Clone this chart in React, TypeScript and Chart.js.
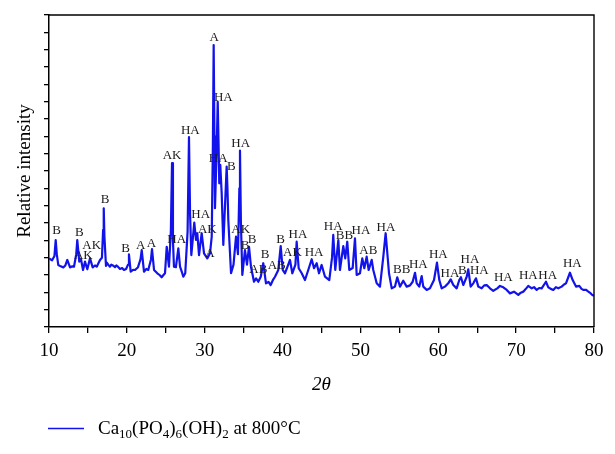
import { useEffect, useRef } from 'react';
import { Chart, registerables } from 'chart.js';

Chart.register(...registerables);

// 2θ positions (degrees) of the trace
const twoTheta = [
  10.0, 10.4, 10.7, 10.86, 11.0, 11.19, 11.5, 11.84,
  12.1, 12.35, 12.7, 13.0, 13.21, 13.5, 13.63, 13.89,
  14.11, 14.37, 14.62, 14.92, 15.27, 15.61, 15.9, 16.13,
  16.55, 16.8, 16.95, 17.03, 17.12, 17.32, 17.45, 17.6,
  17.83, 18.0, 18.2, 18.48, 18.65, 18.8, 19.12, 19.4,
  19.63, 19.9, 20.15, 20.27, 20.49, 20.8, 21.05, 21.43,
  21.75, 21.91, 22.2, 22.5, 22.75, 23.1, 23.23, 23.49,
  23.91, 24.2, 24.47, 24.7, 24.9, 25.12, 25.41, 25.65,
  25.8, 25.92, 26.05, 26.3, 26.61, 26.83, 27.05, 27.25,
  27.5, 27.8, 27.98, 28.12, 28.28, 28.66, 28.88, 29.05,
  29.27, 29.61, 29.91, 30.33, 30.68, 30.9, 31.05, 31.15,
  31.25, 31.32, 31.55, 31.67, 31.78, 31.87, 32.0, 32.18,
  32.39, 32.7, 32.82, 32.92, 33.03, 33.38, 33.7, 34.02,
  34.27, 34.45, 34.53, 34.65, 34.83, 35.17, 35.43, 35.69,
  35.94, 36.33, 36.6, 36.88, 37.2, 37.52, 37.87, 38.2,
  38.47, 38.75, 39.03, 39.45, 39.76, 40.02, 40.31, 40.65,
  40.95, 41.25, 41.65, 41.81, 42.07, 42.46, 42.88, 43.3,
  43.74, 44.04, 44.38, 44.68, 45.02, 45.45, 46.0, 46.35,
  46.51, 46.77, 47.16, 47.37, 47.8, 48.05, 48.31, 48.57,
  49.0, 49.3, 49.52, 49.94, 50.24, 50.5, 50.8, 51.06,
  51.45, 51.65, 52.09, 52.51, 52.94, 53.24, 53.67, 54.02,
  54.44, 54.73, 55.08, 55.5, 55.94, 56.37, 56.71, 57.01,
  57.23, 57.56, 57.87, 58.07, 58.51, 58.93, 59.45, 59.83,
  60.13, 60.44, 60.86, 61.28, 61.59, 61.93, 62.36, 62.7,
  62.91, 63.21, 63.65, 63.85, 64.16, 64.5, 64.84, 65.14,
  65.57, 65.9, 66.22, 66.64, 67.06, 67.58, 67.92, 68.35,
  68.79, 69.21, 69.72, 70.28, 70.6, 70.92, 71.25, 71.56,
  72.0, 72.3, 72.64, 72.95, 73.28, 73.83, 74.13, 74.45,
  74.77, 75.1, 75.41, 75.85, 76.15, 76.4, 76.91, 77.26,
  77.69, 78.11, 78.4, 78.62, 78.95, 79.27, 79.55, 79.78,
  80.0,
];

// Relative intensity (arbitrary units, one unit per y tick)
const intensity = [
  3.96, 3.85, 4.1, 5.02, 4.2, 3.58, 3.5, 3.44,
  3.55, 3.87, 3.44, 3.5, 3.48, 4.2, 5.02, 3.77,
  3.91, 3.29, 3.77, 3.33, 3.96, 3.44, 3.55, 3.48,
  3.87, 4.0, 5.6, 6.85, 5.2, 3.52, 3.7, 3.6,
  3.48, 3.6, 3.55, 3.45, 3.55, 3.5, 3.35, 3.4,
  3.29, 3.35, 3.6, 4.19, 3.19, 3.3, 3.29, 3.45,
  3.9, 4.44, 3.19, 3.35, 3.29, 3.9, 4.5, 3.29,
  3.1, 3.0, 2.87, 3.0, 3.1, 4.63, 3.48, 5.5,
  9.45, 5.0, 3.48, 3.45, 4.54, 3.48, 3.2, 2.9,
  3.1, 5.5, 10.95, 6.5, 4.15, 6.02, 5.02, 5.41,
  4.15, 5.41, 4.25, 3.96, 4.25, 5.21, 10.5, 16.27,
  11.0, 6.85, 10.5, 13.0, 10.5, 8.29, 9.35, 7.71,
  4.73, 8.0, 9.25, 8.0, 6.17, 3.1, 3.6, 5.21,
  4.2, 8.0, 10.17, 6.0, 3.0, 4.44, 3.6, 4.63,
  3.48, 2.61, 2.8, 2.61, 2.9, 3.68, 2.52, 2.6,
  2.42, 2.7, 2.9, 3.29, 4.67, 3.29, 3.1, 3.5,
  3.87, 3.1, 3.6, 4.92, 3.39, 3.1, 2.71, 3.29,
  3.91, 3.39, 3.68, 3.1, 3.58, 2.9, 2.71, 4.0,
  5.31, 3.29, 5.02, 3.29, 4.67, 3.96, 4.92, 3.29,
  3.4, 5.12, 3.0, 3.1, 3.96, 3.39, 4.06, 3.29,
  3.87, 3.29, 2.52, 2.33, 4.06, 5.41, 3.1, 2.23,
  2.33, 2.87, 2.33, 2.67, 2.33, 2.4, 2.61, 3.13,
  2.52, 2.33, 2.94, 2.33, 2.14, 2.23, 2.71, 3.71,
  2.71, 2.23, 2.33, 2.52, 2.75, 2.42, 2.23, 2.71,
  2.87, 2.42, 2.9, 3.33, 2.33, 2.52, 2.81, 2.33,
  2.23, 2.4, 2.42, 2.23, 2.09, 2.23, 2.37, 2.29,
  2.14, 1.94, 2.04, 1.85, 1.98, 2.04, 2.2, 2.37,
  2.23, 2.3, 2.14, 2.25, 2.23, 2.61, 2.29, 2.2,
  2.14, 2.3, 2.23, 2.33, 2.45, 2.52, 3.13, 2.71,
  2.33, 2.37, 2.2, 2.14, 2.15, 2.04, 1.95, 1.85,
  1.8,
];

// Phase annotations
const peakLabels = [
  'B', 'B', 'AK', 'AK', 'B', 'B', 'A', 'A', 'HA', 'AK', 'HA', 'HA', 'AK', 'A', 'A', 'HA',
  'HA', 'B', 'HA', 'AK', 'B', 'B', 'AB', 'B', 'AB', 'B', 'AK', 'HA', 'HA', 'HA', 'BB', 'HA',
  'AB', 'HA', 'BB', 'HA', 'HA', 'HA', 'B', 'HA', 'HA', 'HA', 'HA', 'HA', 'HA',
];
const peakLabelX = [
  10.99, 13.89, 14.41, 15.48, 17.19, 19.85, 21.78, 23.16, 26.4, 25.8, 28.15, 29.48, 30.33, 30.68, 31.23, 32.39,
  31.74, 33.41, 34.62, 34.62, 35.17, 36.07, 36.88, 37.74, 39.25, 39.73, 41.27, 41.98, 44.04, 46.51, 47.95, 50.07,
  51.01, 53.28, 55.3, 57.43, 60.0, 61.5, 63.08, 64.07, 65.27, 68.35, 71.56, 74.05, 77.21,
];
const peakLabelY = [
  5.54, 5.46, 4.11, 4.69, 7.33, 4.54, 4.67, 4.83, 5.02, 9.87, 11.33, 6.5, 5.6, 4.25, 16.69, 13.23,
  9.73, 9.25, 10.6, 5.6, 4.69, 5.02, 3.29, 4.15, 3.52, 5.06, 4.27, 5.31, 4.29, 5.77, 5.25, 5.57,
  4.39, 5.75, 3.33, 3.58, 4.15, 3.1, 3.25, 3.87, 3.25, 2.84, 2.94, 2.94, 3.68,
];

const xLabelValues = [10, 20, 30, 40, 50, 60, 70, 80];
const xTitle = '2θ';
const yTitle = 'Relative intensity';
// legend text pieces: [text, isSubscript]
const legendParts: [string, boolean][] = [
  ['Ca', false], ['10', true], ['(PO', false], ['4', true], [')', false], ['6', true],
  ['(OH)', false], ['2', true], [' at 800°C', false],
];

const LINE_COLOR = '#1212ea';
const SERIF = '"Liberation Serif", "Times New Roman", serif';

const decorPlugin = {
  id: 'decor',
  afterDatasetsDraw(chart: any) {
    const { ctx, scales } = chart;
    ctx.save();
    ctx.fillStyle = '#1a1a1a';
    ctx.font = `13px ${SERIF}`;
    ctx.textAlign = 'center';
    ctx.textBaseline = 'middle';
    peakLabels.forEach((t, i) => {
      ctx.fillText(t, scales.x.getPixelForValue(peakLabelX[i]), scales.y.getPixelForValue(peakLabelY[i]));
    });
    ctx.restore();
  },
  afterDraw(chart: any) {
    const { ctx, chartArea } = chart;
    const { left, right, top, bottom } = chartArea;
    ctx.save();
    // frame
    ctx.strokeStyle = '#000';
    ctx.lineWidth = 1.4;
    ctx.beginPath();
    ctx.moveTo(left, top);
    ctx.lineTo(right, top);
    ctx.lineTo(right, bottom);
    ctx.stroke();
    // axis titles
    ctx.fillStyle = '#000';
    ctx.textAlign = 'center';
    ctx.textBaseline = 'middle';
    ctx.font = `italic 19px ${SERIF}`;
    ctx.fillText(xTitle, (left + right) / 2, 385);
    ctx.save();
    ctx.translate(25, 171);
    ctx.rotate(-Math.PI / 2);
    ctx.font = `19px ${SERIF}`;
    ctx.fillText(yTitle, 0, 0);
    ctx.restore();
    // legend
    ctx.strokeStyle = LINE_COLOR;
    ctx.lineWidth = 1.6;
    ctx.beginPath();
    ctx.moveTo(48, 428.5);
    ctx.lineTo(84, 428.5);
    ctx.stroke();
    ctx.textAlign = 'left';
    ctx.textBaseline = 'alphabetic';
    let x = 98;
    const base = 434;
    legendParts.forEach(([t, sub]) => {
      ctx.font = sub ? `13px ${SERIF}` : `19px ${SERIF}`;
      ctx.fillText(t, x, sub ? base + 4 : base);
      x += ctx.measureText(t).width;
    });
    ctx.restore();
  },
};

export default function App() {
  const ref = useRef<HTMLCanvasElement>(null);
  useEffect(() => {
    document.body.style.margin = '0';
    const canvas = ref.current!;
    const chart = new Chart(canvas, {
      type: 'line',
      data: {
        datasets: [
          {
            data: twoTheta.map((x, i) => ({ x, y: intensity[i] })),
            borderColor: LINE_COLOR,
            borderWidth: 2.2,
            borderJoinStyle: 'round',
            pointRadius: 0,
            tension: 0,
          },
        ],
      },
      options: {
        responsive: false,
        animation: false,
        layout: { padding: { left: 0, right: 21, top: 15, bottom: 0 } },
        plugins: { legend: { display: false }, tooltip: { enabled: false } },
        scales: {
          x: {
            type: 'linear',
            min: 10,
            max: 80,
            afterFit: (s: any) => { s.height = 127; },
            ticks: {
              stepSize: 5,
              autoSkip: false,
              maxRotation: 0,
              padding: 7,
              color: '#000',
              font: { family: SERIF, size: 19 },
              callback: (v: any) => (xLabelValues.includes(Number(v)) ? String(v) : ''),
            },
            grid: { drawOnChartArea: false, tickLength: 6, color: '#000', lineWidth: 1.3 },
            border: { color: '#000', width: 1.5 },
          },
          y: {
            min: 0,
            max: 18,
            afterFit: (s: any) => { s.width = 49; },
            ticks: { display: false, stepSize: 1 },
            grid: { drawOnChartArea: false, tickLength: 5, color: '#000', lineWidth: 1.3 },
            border: { color: '#000', width: 1.5 },
          },
        },
      },
      plugins: [decorPlugin],
    });
    return () => chart.destroy();
  }, []);
  return <canvas ref={ref} width={615} height={454} style={{ display: 'block' }} />;
}
